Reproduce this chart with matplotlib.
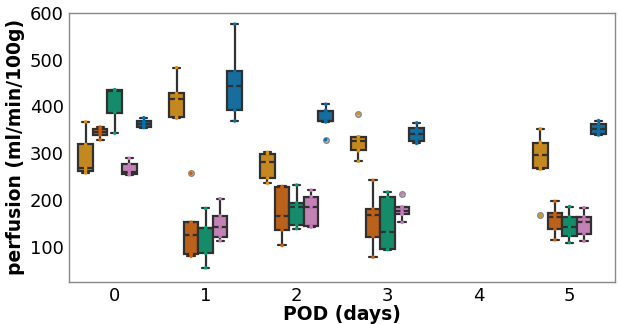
import numpy as np
import pandas as pd
import matplotlib
matplotlib.use("Agg")
import matplotlib.pyplot as plt
import seaborn as sns

# dias post-operatorios y grupos
pod_days = ["0", "1", "2", "3", "4", "5"]
groups = ["g1", "g2", "g3", "g4", "g5"]
colores = ["#DE8F05", "#D55E00", "#029E73", "#CC78BC", "#0173B2"]

# perfusion (ml/min/100g) por grupo y dia
g1 = {"0": [258, 263, 269, 319, 367],
      "1": [375, 378, 415, 428, 483],
      "2": [236, 247, 281, 299, 302],
      "3": [283, 305, 308, 326, 335, 335, 385],
      "5": [167, 266, 270, 297, 320, 324, 352]}
g2 = {"0": [329, 339, 346, 352, 356],
      "1": [80, 84, 85, 126, 152, 152, 257],
      "2": [103, 136, 165, 227, 229],
      "3": [78, 122, 169, 181, 242],
      "5": [115, 138, 164, 172, 197]}
g3 = {"0": [343, 387, 433, 435, 436],
      "1": [55, 86, 140, 141, 182],
      "2": [139, 147, 185, 194, 232],
      "3": [94, 95, 131, 206, 217],
      "5": [109, 124, 142, 164, 186]}
g4 = {"0": [254, 256, 261, 276, 289],
      "1": [113, 122, 143, 166, 203],
      "2": [142, 144, 186, 207, 221],
      "3": [152, 169, 171, 176, 185, 185, 213],
      "5": [112, 128, 152, 164, 184]}
g5 = {"0": [355, 356, 362, 368, 376],
      "1": [369, 392, 444, 475, 576],
      "2": [329, 367, 369, 370, 390, 392, 405],
      "3": [321, 327, 342, 353, 365],
      "5": [339, 342, 352, 363, 370]}

filas = []
for nombre, datos in zip(groups, [g1, g2, g3, g4, g5]):
    for dia, valores in datos.items():
        for v in valores:
            filas.append({"POD": dia, "grupo": nombre, "perfusion": v})
df = pd.DataFrame(filas)

sns.set_style("white")
plt.rcParams["font.family"] = ["DejaVu Sans"]
plt.rcParams["text.color"] = "black"
plt.rcParams["axes.labelcolor"] = "black"
plt.rcParams["xtick.color"] = "black"
plt.rcParams["ytick.color"] = "black"

fig, ax = plt.subplots(figsize=(6.18, 3.24), dpi=100)
fig.subplots_adjust(left=0.112, right=0.995, bottom=0.13, top=0.96)

sns.boxplot(data=df, x="POD", y="perfusion", hue="grupo", order=pod_days,
            hue_order=groups, palette=colores, linewidth=1.6, ax=ax,
            flierprops=dict(marker="o", markersize=4, markerfacecolor="#bbbbbb",
                            markeredgecolor="#888888"))
sns.stripplot(data=df, x="POD", y="perfusion", hue="grupo", order=pod_days,
              hue_order=groups, palette=colores, dodge=True, jitter=False,
              size=2.5, linewidth=0, ax=ax)

if ax.legend_:
    ax.legend_.remove()
ax.set_ylim(25, 600)
ax.set_xlim(-0.5, 5.5)
ax.set_yticks([100, 200, 300, 400, 500, 600])
ax.tick_params(labelsize=13, length=0, pad=4)
ax.set_xlabel("POD (days)", fontsize=13.5, fontweight="bold", labelpad=0)
ax.set_ylabel("perfusion (ml/min/100g)", fontsize=13.5, fontweight="bold", labelpad=3)
for s in ax.spines.values():
    s.set_color("#888888")
    s.set_linewidth(1)

plt.savefig("out.png", dpi=100)
